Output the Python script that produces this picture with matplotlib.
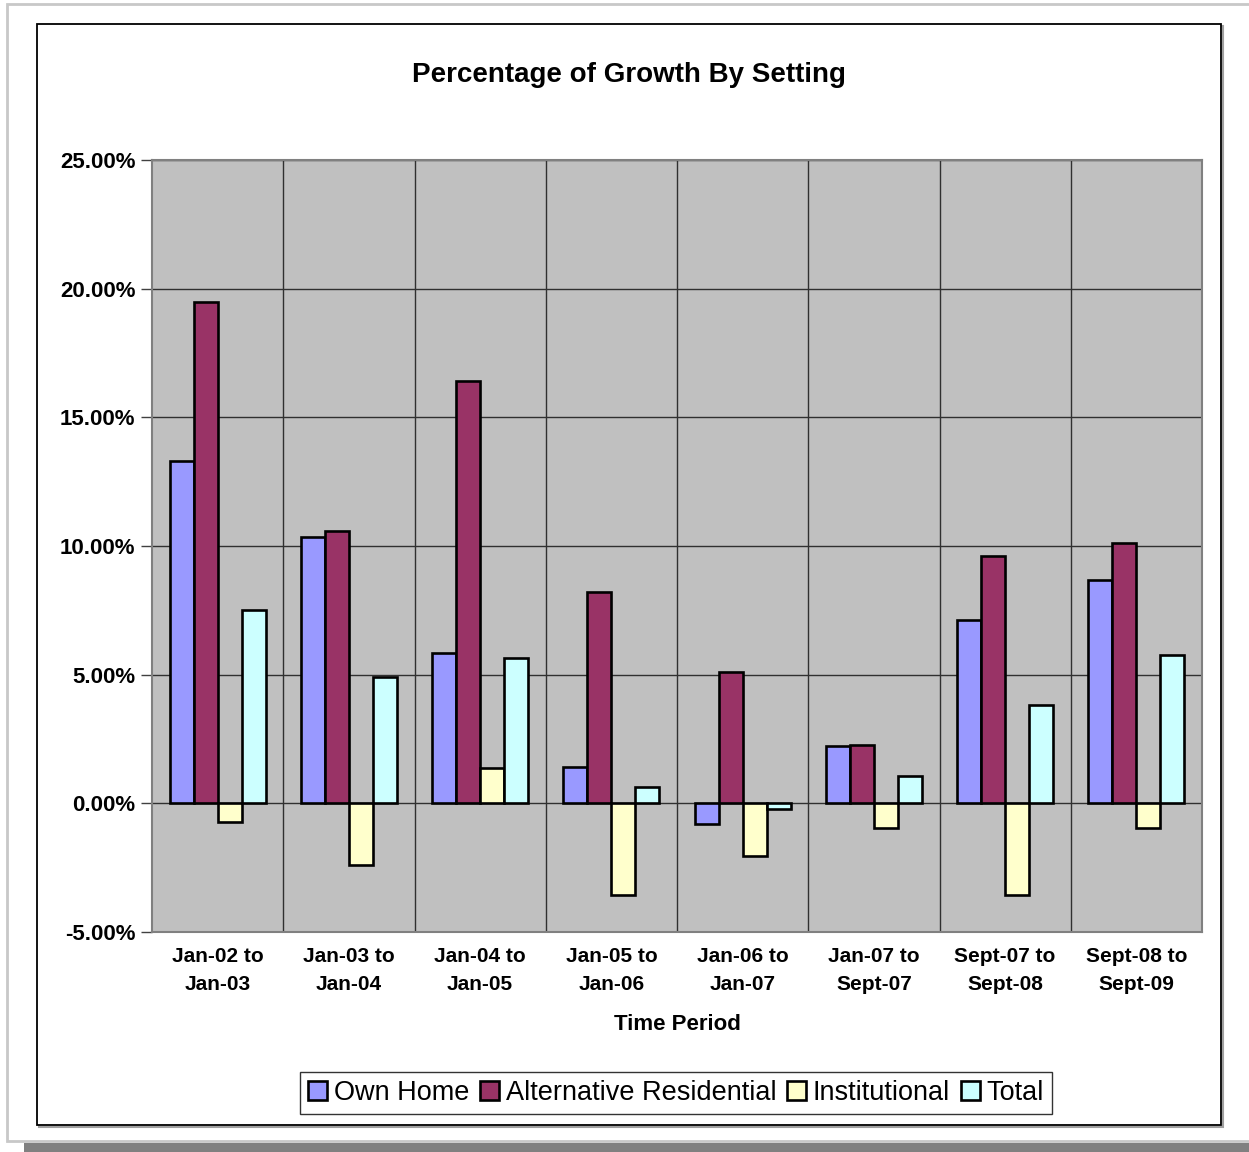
import numpy as np
import matplotlib.pyplot as plt
from matplotlib.patches import Rectangle

# data (percent)
periods = ['Jan-02 to\nJan-03', 'Jan-03 to\nJan-04', 'Jan-04 to\nJan-05', 'Jan-05 to\nJan-06',
           'Jan-06 to\nJan-07', 'Jan-07 to\nSept-07', 'Sept-07 to\nSept-08', 'Sept-08 to\nSept-09']
own_home = [13.3, 10.35, 5.85, 1.4, -0.82, 2.22, 7.12, 8.67]
alt_res = [19.47, 10.6, 16.4, 8.2, 5.1, 2.25, 9.6, 10.1]
institutional = [-0.74, -2.41, 1.36, -3.58, -2.06, -0.97, -3.58, -0.97]
total = [7.5, 4.9, 5.63, 0.62, -0.23, 1.05, 3.81, 5.76]

series = ['Own Home', 'Alternative Residential', 'Institutional', 'Total']
colors = ['#9999FF', '#993366', '#FFFFCC', '#CCFFFF']

plt.rcParams['font.family'] = ['Liberation Sans', 'DejaVu Sans']

W, H = 1249, 1152
fig = plt.figure(figsize=(W / 100, H / 100), dpi=100)


def px(x0, y0, x1, y1):
    # pixel box -> figure coords
    return (x0 / W, 1 - y1 / H, (x1 - x0) / W, (y1 - y0) / H)


def frame(box, **kw):
    r = Rectangle(box[:2], box[2], box[3], transform=fig.transFigure, zorder=-10, **kw)
    fig.patches.append(r)


# page frame and shadow
frame((24 / W, 0, 1, 9 / H), facecolor='#808080', edgecolor='none')
frame(px(7, 4, 1260, 1141), facecolor='white', edgecolor='#c8c8c8', lw=2)
cx, cy, cw, ch = px(37, 24, 1221, 1125)
frame((cx + 1.5 / W, cy - 1.5 / H, cw, ch), facecolor='none', edgecolor='#a0a0a0', lw=1.5)
frame((cx, cy, cw, ch), facecolor='white', edgecolor='black', lw=1.3)

ax = fig.add_axes(px(152, 160, 1202, 932))
ax.set_facecolor('#C0C0C0')

x = np.arange(len(periods))
bw = 0.183
offsets = [-1.5 * bw, -0.5 * bw, 0.5 * bw, 1.5 * bw]
for vals, name, col, off in zip([own_home, alt_res, institutional, total], series, colors, offsets):
    ax.bar(x + off, np.array(vals) / 100, bw, color=col, edgecolor='black', lw=1.9,
           label=name, zorder=3)

ax.set_xlim(-0.5, len(periods) - 0.5)
ax.set_ylim(-0.05, 0.25)
yt = np.arange(-0.05, 0.2501, 0.05)
ax.set_yticks(yt)
ax.set_yticklabels(['%.2f%%' % (v * 100) for v in yt], fontsize=16, fontweight='bold')
ax.set_xticks(x)
ax.set_xticklabels(periods, fontsize=15, fontweight='bold', linespacing=1.6)
ax.tick_params(axis='x', length=0, pad=11)
ax.tick_params(axis='y', length=8, width=1, color='#404040', pad=4)

for yv in yt:
    ax.axhline(yv, color='#303030', lw=1, zorder=1)
for xv in np.arange(0.5, len(periods) - 0.5, 1):
    ax.axvline(xv, color='#303030', lw=1, zorder=1)

for s in ax.spines.values():
    s.set_color('#808080')
    s.set_linewidth(1.5)

fig.text(629 / W, 1 - 75 / H, 'Percentage of Growth By Setting', ha='center', va='center',
         fontsize=20, fontweight='bold')
fig.text(677 / W, 1 - 1025 / H, 'Time Period', ha='center', va='center',
         fontsize=16, fontweight='bold')

leg = fig.legend(loc='center', bbox_to_anchor=(676 / W, 1 - 1093 / H), ncol=4,
                 fontsize=19.5, frameon=True, fancybox=False, edgecolor='black',
                 handlelength=0.7, handleheight=0.7, handletextpad=0.25,
                 columnspacing=0.4, borderpad=0.3, borderaxespad=0)
leg.get_frame().set_linewidth(1)

fig.savefig('out.png', dpi=100)
